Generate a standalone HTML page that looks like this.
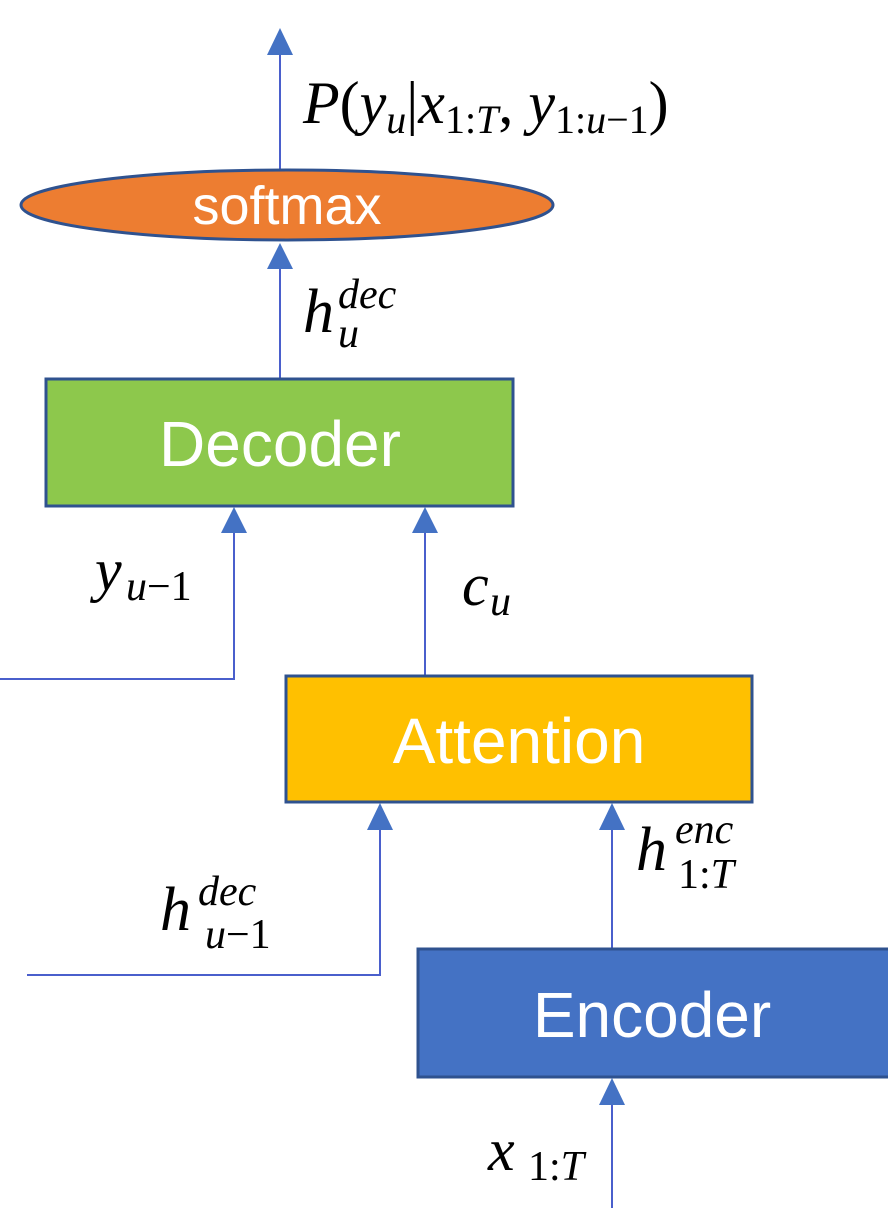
<!DOCTYPE html>
<html><head><meta charset="utf-8"><style>
html,body{margin:0;padding:0;background:#fff;}
svg{display:block}
.m{font-family:"Liberation Serif",serif;font-style:italic;fill:#000}
.r{font-family:"Liberation Serif",serif;font-style:normal;fill:#000}
.b{font-family:"Liberation Sans",sans-serif;fill:#fff}
</style></head><body>
<svg width="888" height="1211" viewBox="0 0 888 1211" xmlns="http://www.w3.org/2000/svg">
<g stroke="#4A5FCC" stroke-width="2" fill="none">
<line x1="280" y1="50" x2="280" y2="172"/>
<line x1="280" y1="265" x2="280" y2="378"/>
<polyline points="0,679 234,679 234,530"/>
<line x1="425" y1="530" x2="425" y2="675"/>
<polyline points="27,975 380,975 380,828"/>
<line x1="612" y1="828" x2="612" y2="948"/>
<line x1="612" y1="1102" x2="612" y2="1208"/>
</g>
<g fill="#4472C4">
<polygon points="280,28 267,55 293,55"/>
<polygon points="280,243 267,269 293,269"/>
<polygon points="234,507 221,533 247,533"/>
<polygon points="425,507 412,533 438,533"/>
<polygon points="380,803 367,830 393,830"/>
<polygon points="612,803 599,830 625,830"/>
<polygon points="612,1078 599,1105 625,1105"/>
</g>
<ellipse cx="287" cy="205" rx="266" ry="35" fill="#ED7D31" stroke="#2F528F" stroke-width="3"/>
<text x="287" y="224" text-anchor="middle" class="b" font-size="54">softmax</text>
<rect x="46" y="379" width="467" height="127" fill="#8DC84C" stroke="#2F528F" stroke-width="3"/>
<text x="280" y="466" text-anchor="middle" class="b" font-size="64">Decoder</text>
<rect x="286" y="676" width="466" height="126" fill="#FFC000" stroke="#2F528F" stroke-width="3"/>
<text x="519" y="763" text-anchor="middle" class="b" font-size="64">Attention</text>
<rect x="418" y="949" width="472" height="128" fill="#4472C4" stroke="#2F528F" stroke-width="3"/>
<text x="652" y="1037" text-anchor="middle" class="b" font-size="64">Encoder</text>

<text x="303" y="123" class="m" font-size="60">P<tspan class="r">(</tspan>y<tspan font-size="40" dy="10">u</tspan><tspan class="r" dy="-10">|</tspan>x<tspan class="r" font-size="40" dy="10">1:</tspan><tspan font-size="40">T</tspan><tspan class="r" dy="-10">, </tspan>y<tspan class="r" font-size="40" dy="10">1:</tspan><tspan font-size="40">u</tspan><tspan class="r" font-size="40">−1</tspan><tspan class="r" dy="-10">)</tspan></text>

<text x="303" y="332" class="m" font-size="62">h</text>
<text x="338" y="308" class="m" font-size="42">dec</text>
<text x="338" y="347" class="m" font-size="42">u</text>

<text x="95" y="590" class="m" font-size="60">y</text>
<text x="126" y="600" class="m" font-size="42">u<tspan class="r">−1</tspan></text>

<text x="462" y="605" class="m" font-size="60">c</text>
<text x="490" y="615" class="m" font-size="42">u</text>

<text x="636" y="870" class="m" font-size="62">h</text>
<text x="675" y="843" class="m" font-size="42">enc</text>
<text x="678" y="888" class="r" font-size="42">1:<tspan class="m">T</tspan></text>

<text x="160" y="930" class="m" font-size="62">h</text>
<text x="198" y="905" class="m" font-size="42">dec</text>
<text x="205" y="948" class="m" font-size="42">u<tspan class="r">−1</tspan></text>

<text x="488" y="1170" class="m" font-size="60">x</text>
<text x="528" y="1180" class="r" font-size="42">1:<tspan class="m">T</tspan></text>
</svg>
</body></html>
